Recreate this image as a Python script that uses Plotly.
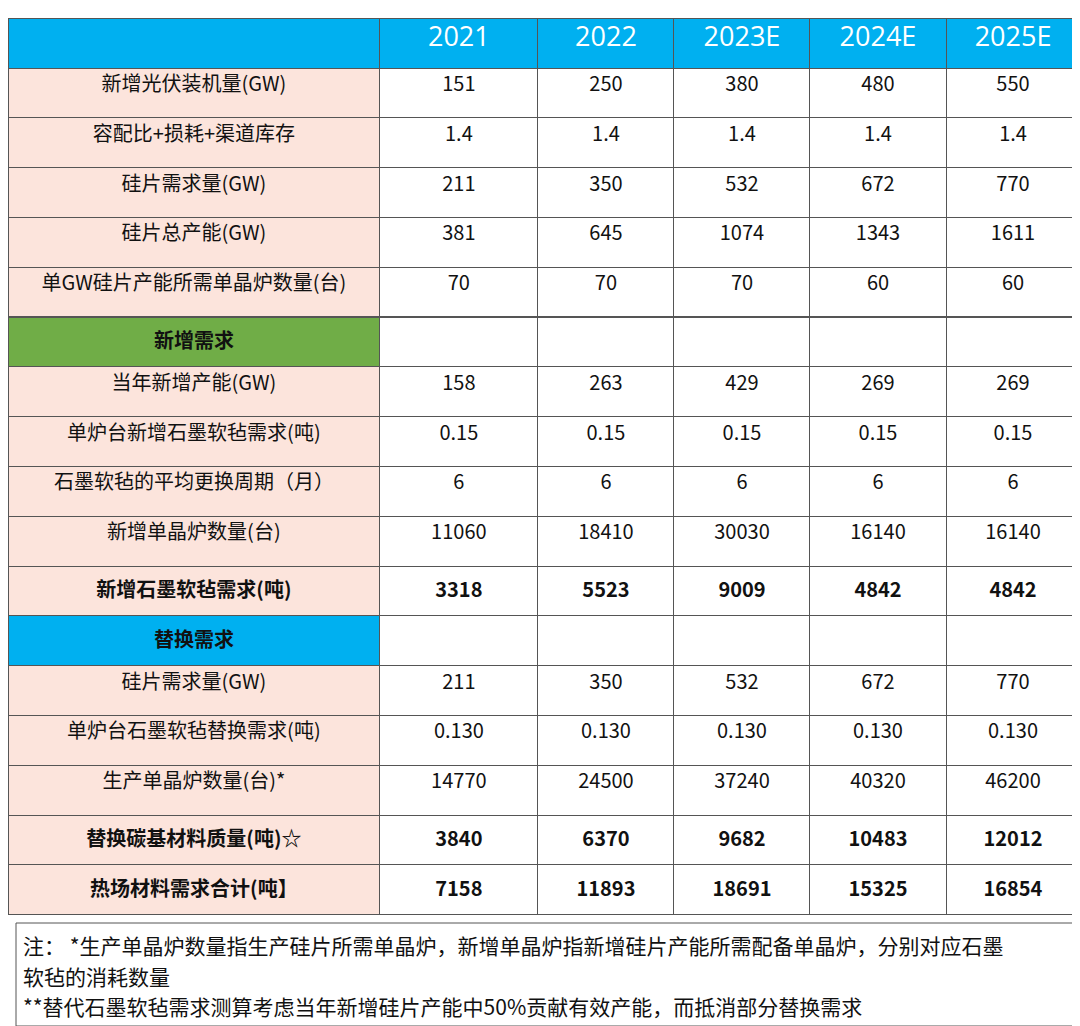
import plotly.graph_objects as go

W, H = 1080, 1026

years = ["2021", "2022", "2023E", "2024E", "2025E"]
row_labels = [
    "新增光伏装机量(GW)", "容配比+损耗+渠道库存", "硅片需求量(GW)", "硅片总产能(GW)",
    "单GW硅片产能所需单晶炉数量(台)", "新增需求", "当年新增产能(GW)",
    "单炉台新增石墨软毡需求(吨)", "石墨软毡的平均更换周期（月）", "新增单晶炉数量(台)",
    "新增石墨软毡需求(吨)", "替换需求", "硅片需求量(GW)", "单炉台石墨软毡替换需求(吨)",
    "生产单晶炉数量(台)*", "替换碳基材料质量(吨)☆", "热场材料需求合计(吨】",
]
values = {
    "2021":  ["151", "1.4", "211", "381", "70", "", "158", "0.15", "6", "11060", "3318", "", "211", "0.130", "14770", "3840", "7158"],
    "2022":  ["250", "1.4", "350", "645", "70", "", "263", "0.15", "6", "18410", "5523", "", "350", "0.130", "24500", "6370", "11893"],
    "2023E": ["380", "1.4", "532", "1074", "70", "", "429", "0.15", "6", "30030", "9009", "", "532", "0.130", "37240", "9682", "18691"],
    "2024E": ["480", "1.4", "672", "1343", "60", "", "269", "0.15", "6", "16140", "4842", "", "672", "0.130", "40320", "10483", "15325"],
    "2025E": ["550", "1.4", "770", "1611", "60", "", "269", "0.15", "6", "16140", "4842", "", "770", "0.130", "46200", "12012", "16854"],
}
bold_rows = [5, 10, 11, 15, 16]
notes = [
    "注： *生产单晶炉数量指生产硅片所需单晶炉，新增单晶炉指新增硅片产能所需配备单晶炉，分别对应石墨",
    "软毡的消耗数量",
    "**替代石墨软毡需求测算考虑当年新增硅片产能中50%贡献有效产能，而抵消部分替换需求",
]

PINK, BLUE, GREEN = "#fce4dc", "#00b0f0", "#70ad47"

def b(v, i):
    return f"<b>{v}</b>" if i in bold_rows and v else v

first_col = [b(v, i) for i, v in enumerate(row_labels)]
first_fill = []
for lab in row_labels:
    first_fill.append(GREEN if lab == "新增需求" else BLUE if lab == "替换需求" else PINK)

cells = [first_col] + [[b(v, i) for i, v in enumerate(values[y])] for y in years]
fills = [first_fill] + [["white"] * len(row_labels) for _ in years]

x0, x1 = 8 / W, 1072 / W
fig = go.Figure(go.Table(
    domain=dict(x=[0, x1], y=[0, 1 - 10 / H]),
    columnwidth=[369, 157, 135, 135, 135, 133],
    header=dict(values=[""] + years, fill_color=BLUE, height=50,
                line=dict(color="#555", width=1),
                font=dict(color="white", size=27, family="Open Sans"), align="center"),
    cells=dict(values=cells, fill_color=fills, height=49.8,
               line=dict(color="#555", width=1),
               font=dict(color="#111", size=20, family="Noto Sans CJK SC"), align="center"),
))

top, bot = 1 - 915 / H, 1 - 1018 / H
fig.add_shape(type="rect", xref="paper", yref="paper", x0=x0, x1=x1, y0=bot, y1=top,
              line=dict(color="#555", width=1))
for t, yp in zip(notes, [937, 968, 998]):
    fig.add_annotation(text=t, xref="paper", yref="paper", x=13 / W, y=1 - yp / H,
                       xanchor="left", yanchor="middle", showarrow=False,
                       font=dict(size=21, color="#111", family="Noto Sans CJK SC"))

fig.update_layout(width=W, height=H, margin=dict(l=0, r=0, t=0, b=0),
                  paper_bgcolor="white", plot_bgcolor="white")
fig.write_html("out.html")
